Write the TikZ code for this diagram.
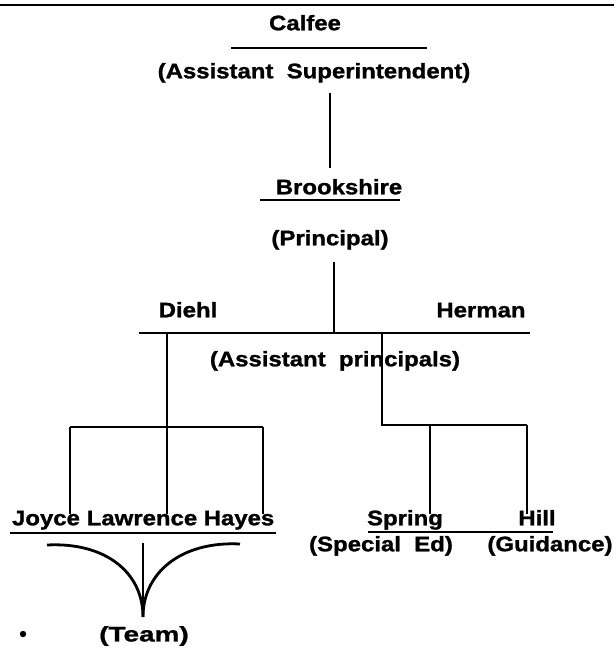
\documentclass[tikz,border=0pt]{standalone}
\usepackage{fontspec}
\newfontfamily\lblfont{Liberation Sans}[FakeStretch=1.14, BoldFeatures={FakeBold=1.3}]
\newfontfamily\teamfont{Liberation Sans}[FakeStretch=1.33, BoldFeatures={FakeBold=1.3}]
\begin{document}
\begin{tikzpicture}[x=1pt,y=-1pt,
  lbl/.style={inner sep=0pt, text height=15pt, text depth=4.5pt, font=\lblfont\bfseries\fontsize{21}{24}\selectfont},
  ln/.style={line width=2.6pt},
  thin/.style={line width=2pt}]
\useasboundingbox (0,0) rectangle (614,653);
% top rule
\coordinate (tl) at (0,5); \coordinate (tr) at (614,5);
\draw[line width=2.8pt] (tl) -- (tr);
% Calfee
\node[lbl] (calfee) at (305,25) {Calfee};
\coordinate (cl1) at (231,48); \coordinate (cl2) at (427,48);
\draw[ln] (cl1) -- (cl2);
\node[lbl] (supt) at (314,73) {(Assistant\ \ Superintendent)};
% Brookshire
\coordinate (v1a) at (330,93); \coordinate (v1b) at (330,168);
\draw[ln] (v1a) -- (v1b);
\node[lbl] (brook) at (339,189) {Brookshire};
\coordinate (bl1) at (260,200); \coordinate (bl2) at (400,200);
\draw[thin] (bl1) -- (bl2);
\node[lbl] (princ) at (330,240) {(Principal)};
% Assistant principals
\coordinate (v2a) at (334,262); \coordinate (v2b) at (334,333);
\draw[ln] (v2a) -- (v2b);
\node[lbl] (diehl) at (188,312) {Diehl};
\node[lbl] (herman) at (481,312) {Herman};
\coordinate (h1) at (139,333); \coordinate (h2) at (530,333);
\draw[ln] (h1) -- (h2);
\node[lbl] (ap) at (335,361) {(Assistant\ \ principals)};
% Diehl branch
\coordinate (dtop) at (167,333); \coordinate (dmid) at (167,427);
\coordinate (ja) at (70,427); \coordinate (ha) at (263,427);
\node[lbl] (joyce) at (46,520) {Joyce};
\node[lbl] (lawrence) at (142,520) {Lawrence};
\node[lbl] (hayes) at (239,520) {Hayes};
\coordinate (jb) at (70,514); \coordinate (lb) at (167,514); \coordinate (hb) at (263,514);
\draw[ln] (dtop) -- (lb);
\draw[ln] (ja) -- (ha);
\draw[ln] (ja) -- (jb);
\draw[ln] (ha) -- (hb);
\coordinate (nu1) at (10,533); \coordinate (nu2) at (276,533);
\draw[thin] (nu1) -- (nu2);
% Team bracket
\coordinate (cL) at (47,545); \coordinate (cR) at (240,544);
\coordinate (tip) at (143,617); \coordinate (mtop) at (143,543);
\draw[line width=2.8pt] (cL) .. controls (105,542) and (143,572) .. (tip);
\draw[line width=2.8pt] (cR) .. controls (182,541) and (143,572) .. (tip);
\draw[ln] (mtop) -- (tip);
\node[inner sep=0pt, font=\teamfont\bfseries\fontsize{21}{24}\selectfont] (team) at (144,636) {(Team)};
\fill (23,634) circle (3.2pt);
% Herman branch
\coordinate (rtop) at (382,333); \coordinate (rc) at (382,425);
\coordinate (rr) at (527,425);
\coordinate (sa) at (430,425); \coordinate (sb) at (430,514);
\coordinate (hb2) at (527,514);
\draw[ln] (rtop) -- (rc) -- (rr);
\draw[ln] (sa) -- (sb);
\draw[ln] (rr) -- (hb2);
\node[lbl] (spring) at (405,520) {Spring};
\node[lbl] (hill) at (537,520) {Hill};
\coordinate (su1) at (368,532); \coordinate (su2) at (553,532);
\draw[thin] (su1) -- (su2);
\node[lbl] (sped) at (381,546) {(Special\ \ Ed)};
\node[lbl] (guid) at (550,546) {(Guidance)};
\end{tikzpicture}
\end{document}
